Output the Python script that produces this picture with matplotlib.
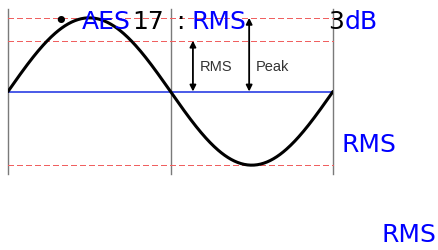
import numpy as np
import matplotlib
matplotlib.use("Agg")
import matplotlib.pyplot as plt

# wave (one period, amplitude in units of peak)
peak = 1.0
rms = 0.69
period_marks = [0.0, 0.5, 1.0]
ref_levels = [peak, rms, -peak]
rms_arrow_x = 0.569
peak_arrow_x = 0.742

# overlay text pieces: (text, x px, colour)
top_pieces = [("AES", 82, "blue"), ("17", 132, "black"), (":", 176, "black"),
              ("RMS", 192, "blue"), ("3", 328, "black"), ("dB", 345, "blue")]
side_labels = [("RMS", 342, 152), ("RMS", 381, 242)]

fig = plt.figure(figsize=(4.38, 2.51), dpi=100)

# diagram
ax = fig.add_axes([8/438, 76/251, 325/438, 165/251])
ax.set_xlim(0, 1)
ax.set_ylim(-1.12, 1.12)
ax.axis("off")

for xm in period_marks:
    ax.axvline(xm, color="#7a7a7a", lw=1.0, zorder=1, clip_on=False)
for lv in ref_levels:
    ax.axhline(lv, color="#f06060", lw=0.9, ls=(0, (4, 3)), zorder=1,
               clip_on=False, antialiased=False)
ax.axhline(0, color="#4a5ae8", lw=1.4, zorder=2)

t = np.linspace(0, 1, 400)
ax.plot(t, peak*np.sin(2*np.pi*t), color="black", lw=2.2, zorder=3,
        solid_capstyle="round")

arr = dict(arrowstyle="<|-|>", color="black", lw=1.3, mutation_scale=9,
           shrinkA=0, shrinkB=0)
ax.annotate("", xy=(rms_arrow_x, rms), xytext=(rms_arrow_x, 0), arrowprops=arr)
ax.annotate("", xy=(peak_arrow_x, peak), xytext=(peak_arrow_x, 0), arrowprops=arr)
ax.text(rms_arrow_x + 0.02, 0.34, "RMS", color="#333333", fontsize=10.5,
        family="Liberation Sans", va="center", ha="left")
ax.text(peak_arrow_x + 0.02, 0.34, "Peak", color="#333333", fontsize=10.5,
        family="Liberation Sans", va="center", ha="left")

# overlay text, pixel coordinates
ov = fig.add_axes([0, 0, 1, 1])
ov.set_xlim(0, 438)
ov.set_ylim(251, 0)
ov.axis("off")
ov.patch.set_alpha(0)

ov.text(53, 29, "\u2022", color="black", fontsize=18, va="baseline", ha="left")
for s, x, c in top_pieces:
    ov.text(x, 29, s, color=c, fontsize=18, va="baseline", ha="left")
for s, x, y in side_labels:
    ov.text(x, y, s, color="blue", fontsize=18, va="baseline", ha="left")

fig.savefig("out.png", dpi=100)
